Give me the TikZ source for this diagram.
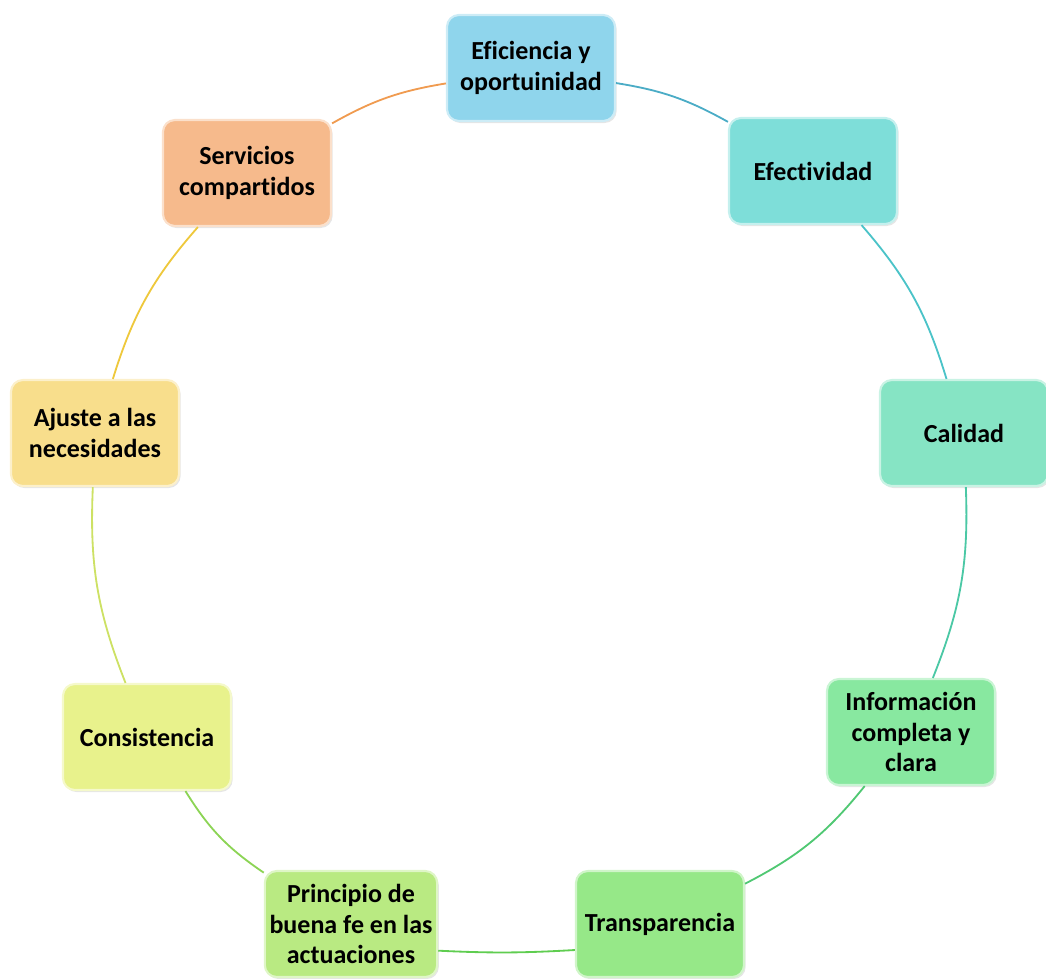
\documentclass[tikz,border=0pt]{standalone}
\usepackage{fontspec}
\setmainfont{Carlito}[Ligatures=NoCommon]
\usetikzlibrary{shadows}

\definecolor{efic}{RGB}{143,213,236}
\definecolor{efec}{RGB}{126,222,217}
\definecolor{cali}{RGB}{134,228,196}
\definecolor{info}{RGB}{136,232,160}
\definecolor{trans}{RGB}{150,232,136}
\definecolor{princ}{RGB}{185,234,130}
\definecolor{cons}{RGB}{232,242,140}
\definecolor{ajus}{RGB}{248,222,140}
\definecolor{serv}{RGB}{246,186,140}
% colores de los arcos
\definecolor{aefic}{RGB}{75,172,198}
\definecolor{aefec}{RGB}{75,195,200}
\definecolor{acali}{RGB}{75,200,165}
\definecolor{ainfo}{RGB}{80,200,115}
\definecolor{atrans}{RGB}{95,205,80}
\definecolor{aprinc}{RGB}{140,212,85}
\definecolor{acons}{RGB}{205,225,100}
\definecolor{aajus}{RGB}{238,200,60}
\definecolor{aserv}{RGB}{240,155,80}

\tikzset{
  caja/.style={fill=#1, draw=#1!45!white, line width=1.5pt, rounded corners=8.5pt,
    minimum width=4.2cm, minimum height=2.65cm, align=center,
    font=\fontsize{18.5}{21.5}\selectfont\bfseries,
    drop shadow={opacity=0.2, shadow xshift=0.04cm, shadow yshift=-0.05cm}},
  arco/.style={draw=#1, line width=1.3pt}
}

\begin{document}
\begin{tikzpicture}[x=0.025cm, y=-0.025cm]
\useasboundingbox (0,0) rectangle (1046,979);

\node[caja=efic] (efic) at (531,68) {Eficiencia y\\oportuinidad};
\node[caja=efec] (efec) at (813,171) {Efectividad};
\node[caja=cali] (cali) at (964,433) {Calidad};
\node[caja=info] (info) at (911,732) {Información\\completa y\\clara};
\node[caja=trans] (trans) at (660,924) {Transparencia};
\node[caja=princ] (princ) at (351,924) {Principio de\\buena fe en las\\actuaciones};
\node[caja=cons] (cons) at (147,737) {Consistencia};
\node[caja=ajus] (ajus) at (95,433) {Ajuste a las\\necesidades};
\node[caja=serv] (serv) at (247,173) {Servicios\\compartidos};

% arcos del circulo
\draw[arco=aefic] (efic) to[bend left=10] (efec);
\draw[arco=aefec] (efec) to[bend left=12] (cali);
\draw[arco=acali] (cali) to[bend left=12] (info);
\draw[arco=ainfo] (info) to[bend left=12] (trans);
\draw[arco=atrans] (trans.197) to[bend left=3] (princ.-17);
\draw[arco=aprinc] (princ) to[bend left=12] (cons);
\draw[arco=acons] (cons) to[bend left=12] (ajus);
\draw[arco=aajus] (ajus) to[bend left=12] (serv);
\draw[arco=aserv] (serv) to[bend left=10] (efic);
\end{tikzpicture}
\end{document}
